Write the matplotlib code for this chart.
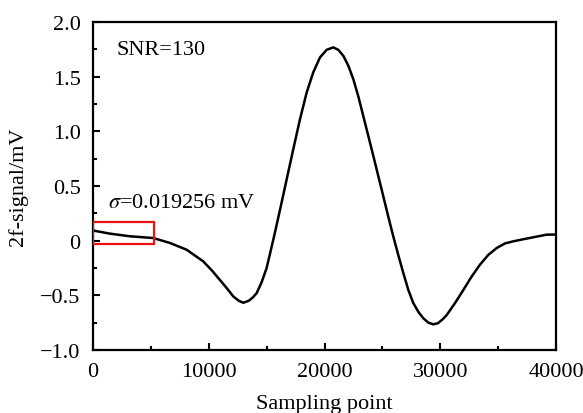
import matplotlib
matplotlib.use("Agg")
import matplotlib.pyplot as plt
from matplotlib.patches import Rectangle
from matplotlib.ticker import MultipleLocator

plt.rcParams['font.family'] = ['Liberation Serif', 'DejaVu Serif']
plt.rcParams['mathtext.fontset'] = 'stix'

sample_x = [0, 1470, 3200, 5210, 6650, 8090, 9530, 10250, 10970, 11600, 12120,
            12600, 12990, 13450, 13800, 14140, 14570, 15000, 15580, 16160, 16730,
            17300, 17880, 18460, 19030, 19610, 20190, 20760, 21200, 21630, 22060,
            22490, 22920, 23350, 23780, 24220, 24650, 25080, 25510, 25940, 26370,
            26810, 27240, 27670, 28100, 28540, 28970, 29400, 29800, 30200, 30560,
            31280, 32000, 32700, 33430, 34150, 34880, 35600, 36310, 37030, 37750,
            38470, 39200, 40000]
signal_mv = [0.093, 0.064, 0.040, 0.024, -0.021, -0.083, -0.19, -0.27, -0.36, -0.44, -0.51,
             -0.55, -0.568, -0.55, -0.52, -0.48, -0.38, -0.25, 0.01, 0.284, 0.56,
             0.835, 1.11, 1.355, 1.54, 1.676, 1.746, 1.768, 1.745, 1.69, 1.60,
             1.477, 1.32, 1.14, 0.96, 0.774, 0.59, 0.406, 0.22, 0.04, -0.13,
             -0.296, -0.45, -0.57, -0.65, -0.71, -0.75, -0.765, -0.755, -0.72, -0.68,
             -0.57, -0.45, -0.33, -0.22, -0.13, -0.067, -0.025, -0.006, 0.01, 0.025,
             0.04, 0.055, 0.056]

y_ticks = [-1.0, -0.5, 0.0, 0.5, 1.0, 1.5, 2.0]
y_tick_labels = ['\u22121.0', '\u22120.5', '0', '0.5', '1.0', '1.5', '2.0']
x_ticks = [0, 10000, 20000, 30000, 40000]
x_tick_labels = ['0', '10000', '20000', '30000', '40000']

fig = plt.figure(figsize=(5.83, 4.14), dpi=100)
ax = fig.add_axes([93/583, 1-351/414, (556-93)/583, (351-23)/414])

ax.plot(sample_x, signal_mv, color='black', lw=1.8, solid_joinstyle='round')
ax.add_patch(Rectangle((0, -0.03), 5300, 0.2, fill=False, edgecolor='#ee1111', lw=1.6, zorder=3))

ax.set_xlim(0, 40000)
ax.set_ylim(-1.0, 2.0)
ax.set_xticks(x_ticks)
ax.set_xticklabels(x_tick_labels)
ax.set_yticks(y_ticks)
ax.set_yticklabels(y_tick_labels)
ax.xaxis.set_minor_locator(MultipleLocator(5000))
ax.yaxis.set_minor_locator(MultipleLocator(0.25))
ax.tick_params(which='both', direction='in', top=False, right=False, labelsize=16, width=1.5)
ax.tick_params(which='major', length=5, pad=9)
ax.tick_params(which='minor', length=3)
for s in ax.spines.values():
    s.set_linewidth(1.6)

ax.set_xlabel('Sampling point', fontsize=16, labelpad=9)
ax.set_ylabel('2f-signal/mV', fontsize=16, labelpad=9)

ax.text(2070, 1.75, 'SNR=130', fontsize=16, va='center', ha='left')
ax.text(1300, 0.35, r'$\sigma$=0.019256 mV', fontsize=16, va='center', ha='left')

fig.savefig('out.png', dpi=100)
